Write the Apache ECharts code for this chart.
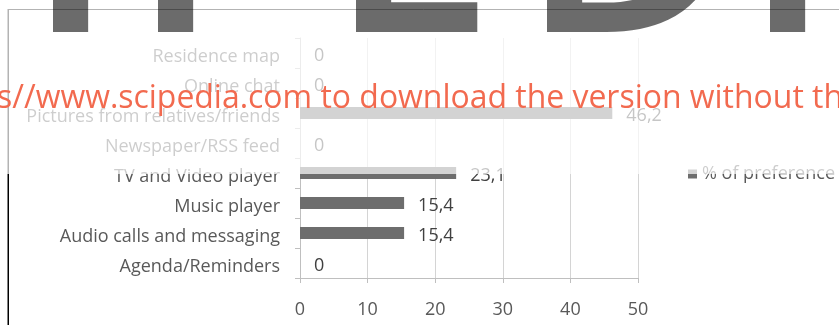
<!DOCTYPE html>
<html>
<head>
<meta charset="utf-8">
<script src="https://cdn.jsdelivr.net/npm/echarts@6/dist/echarts.min.js"></script>
<style>
  html, body { margin: 0; padding: 0; background: #fff; }
  #chart { width: 839px; height: 325px; }
</style>
</head>
<body>
<div id="chart"></div>
<script>
// Share of users preferring each feature (%)
const categories = [
  'Residence map',
  'Online chat',
  'Pictures from relatives/friends',
  'Newspaper/RSS feed',
  'TV and Video player',
  'Music player',
  'Audio calls and messaging',
  'Agenda/Reminders'
];
const preference = [0, 0, 46.2, 0, 23.1, 15.4, 15.4, 0];
const seriesName = '% of preference';
const axisMin = 0, axisMax = 50, axisStep = 10;

// Watermark pieces
const stampLetters = ['I', 'P', 'E', 'D', 'I'];
const stampLeft = [53, 158, 356, 547, 770];
const bannerText = 's//www.scipedia.com to download the version without th';

const FONT = '"Open Sans", "Noto Sans", sans-serif';

const ctx = document.createElement('canvas').getContext('2d');
ctx.textBaseline = 'middle';

// fit the banner across the page width, baseline at y = 108
ctx.font = '30px "Open Sans"';
const bannerSize = 30 * 846 / ctx.measureText(bannerText).width;
const bannerFont = bannerSize.toFixed(2) + 'px "Open Sans"';
ctx.font = bannerFont;
const bannerY = 108 - ctx.measureText('x').actualBoundingBoxDescent;

// large stamp letters: stems placed by their ink box, baseline at y = 32
const stampFont = '600 300px "Open Sans"';
ctx.font = stampFont;
const stampEls = stampLetters.map((ch, i) => {
  const m = ctx.measureText(ch);
  return {
    type: 'text', z: 60, silent: true,
    style: {
      text: ch,
      x: stampLeft[i] + m.actualBoundingBoxLeft,
      y: 32 - m.actualBoundingBoxDescent,
      font: stampFont,
      fill: 'rgba(0,0,0,0.58)', align: 'left', verticalAlign: 'middle'
    }
  };
});

const chart = echarts.init(document.getElementById('chart'), null, { renderer: 'canvas' });
chart.setOption({
  animation: false,
  backgroundColor: '#fff',
  textStyle: { fontFamily: FONT },
  grid: { left: 300, right: 201, top: 38, bottom: 47, containLabel: false },
  legend: {
    data: [seriesName], left: 683, top: 160, icon: 'rect',
    itemWidth: 9, itemHeight: 9,
    textStyle: { fontSize: 18, color: '#595959', fontFamily: FONT }
  },
  xAxis: {
    type: 'value', min: axisMin, max: axisMax, interval: axisStep,
    axisLine: { show: true, lineStyle: { color: '#bfbfbf', width: 1 } },
    axisTick: { show: true, length: 5, lineStyle: { color: '#bfbfbf' } },
    axisLabel: { fontSize: 18, color: '#595959', margin: 23, fontFamily: FONT },
    splitLine: { show: true, lineStyle: { color: '#d4d4d4', width: 1 } }
  },
  yAxis: {
    type: 'category', data: categories, inverse: true,
    axisLine: { show: true, lineStyle: { color: '#bfbfbf', width: 1 } },
    axisTick: { show: true, length: 5, lineStyle: { color: '#bfbfbf' } },
    // text sits a little below the band centre
    axisLabel: {
      fontSize: 18, color: '#595959', margin: 20, fontFamily: FONT,
      verticalAlign: 'top', lineHeight: 8
    },
    splitLine: { show: false }
  },
  series: [{
    name: seriesName, type: 'bar', data: preference, barWidth: 12,
    itemStyle: { color: '#6d6d6d' },
    label: {
      show: true, position: 'right', distance: 14,
      fontSize: 18, color: '#404040', fontFamily: FONT,
      verticalAlign: 'top', lineHeight: 5,
      formatter: p => String(p.value).replace('.', ',')
    }
  }],
  graphic: [
    { type: 'line', z: 1, silent: true,
      shape: { x1: 8.25, y1: 9, x2: 8.25, y2: 325 },
      style: { stroke: '#000', lineWidth: 1.5 } },
    { type: 'line', z: 1, silent: true,
      shape: { x1: 8, y1: 9.5, x2: 839, y2: 9.5 },
      style: { stroke: '#000', lineWidth: 1 } },
    { type: 'rect', z: 50, silent: true,
      shape: { x: 0, y: 0, width: 839, height: 174 },
      style: { fill: 'rgba(255,255,255,0.7)' } },
    ...stampEls,
    { type: 'text', z: 70, silent: true,
      style: {
        text: bannerText, x: -3, y: bannerY,
        font: bannerFont,
        fill: '#f26a4f', align: 'left', verticalAlign: 'middle'
      } }
  ]
});
</script>
</body>
</html>
